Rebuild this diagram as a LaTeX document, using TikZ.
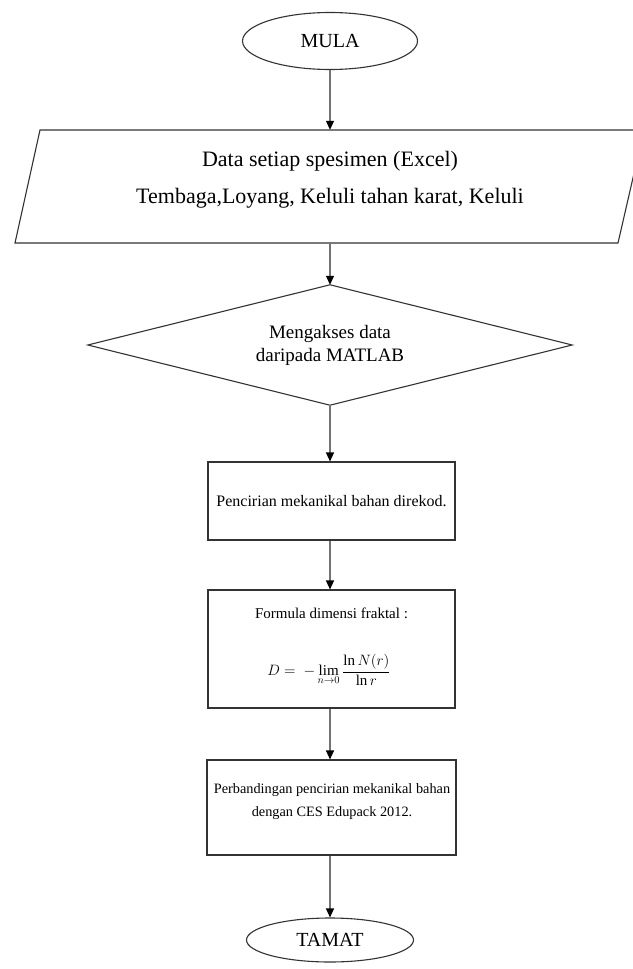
\RequirePackage{fix-cm}
\documentclass[tikz,border=0pt]{standalone}
\usepackage{fontspec}
\setmainfont{Liberation Serif}
\usetikzlibrary{shapes.geometric,arrows.meta}
\begin{document}
\begin{tikzpicture}[x=1pt,y=-1pt,
  shape line/.style={draw=black!80, line width=1.1pt},
  arr/.style={draw=black!55, line width=1.1pt, -{Triangle[length=9pt,width=8pt,fill=black,color=black]}},
  term/.style={ellipse, shape line, inner sep=0pt, font=\fontsize{20}{24}\selectfont},
  boxnode/.style={rectangle, shape line, inner sep=0pt, align=center, font=\fontsize{16}{22}\selectfont},
  plain/.style={inner sep=0pt, align=center}]
\useasboundingbox (0,0) rectangle (632,969);
\fill[white] (0,0) rectangle (632,969);

% start
\node[term, minimum width=175pt, minimum height=57pt] (mula) at (330,41) {MULA};

% input parallelogram
\node[plain, minimum width=580pt, minimum height=113pt] (data) at (330,186.5) {};
\node[plain, font=\fontsize{22}{37}\selectfont] (datat) at (330,180)
  {Data setiap spesimen (Excel)\\Tembaga,Loyang, Keluli tahan karat, Keluli};
\draw[shape line] (40,130) -- (644,130) -- (618,243) -- (15,243) -- cycle;

% decision diamond
\node[plain, minimum width=484pt, minimum height=120pt,
      font=\fontsize{19}{23}\selectfont] (dia) at (330,345)
  {Mengakses data\\daripada MATLAB};
\draw[shape line] (dia.north) -- (dia.east) -- (dia.south) -- (dia.west) -- cycle;

% process boxes
\node[boxnode, minimum width=247pt, minimum height=78pt] (r1) at (331.5,501)
  {Pencirian mekanikal bahan direkod.};

\node[boxnode, minimum width=247pt, minimum height=118pt] (r2) at (331.5,649) {};
\node[plain, font=\fontsize{15}{19}\selectfont] (r2t) at (331.5,613)
  {Formula dimensi fraktal :};
\node[plain, font=\fontsize{15}{19}\selectfont] (r2f) at (329,670)
  {$\displaystyle D =\ -\lim_{n\to 0}\frac{\ln N(r)}{\ln r}$};

\node[boxnode, minimum width=249pt, minimum height=95pt] (r3) at (331.5,807.5) {};
\node[plain, font=\fontsize{14.3}{23}\selectfont] (r3t) at (332,801.5)
  {Perbandingan pencirian mekanikal bahan\\dengan CES Edupack 2012.};

% end
\node[term, minimum width=167pt, minimum height=44pt] (tamat) at (330,940) {TAMAT};

% connectors
\draw[arr] (mula.south) -- (data.north);
\draw[arr] (data.south) -- (dia.north);
\draw[arr] (dia.south) -- (dia.south |- r1.north);
\draw[arr] (dia.south |- r1.south) -- (dia.south |- r2.north);
\draw[arr] (dia.south |- r2.south) -- (dia.south |- r3.north);
\draw[arr] (dia.south |- r3.south) -- (tamat.north);
\end{tikzpicture}
\end{document}
